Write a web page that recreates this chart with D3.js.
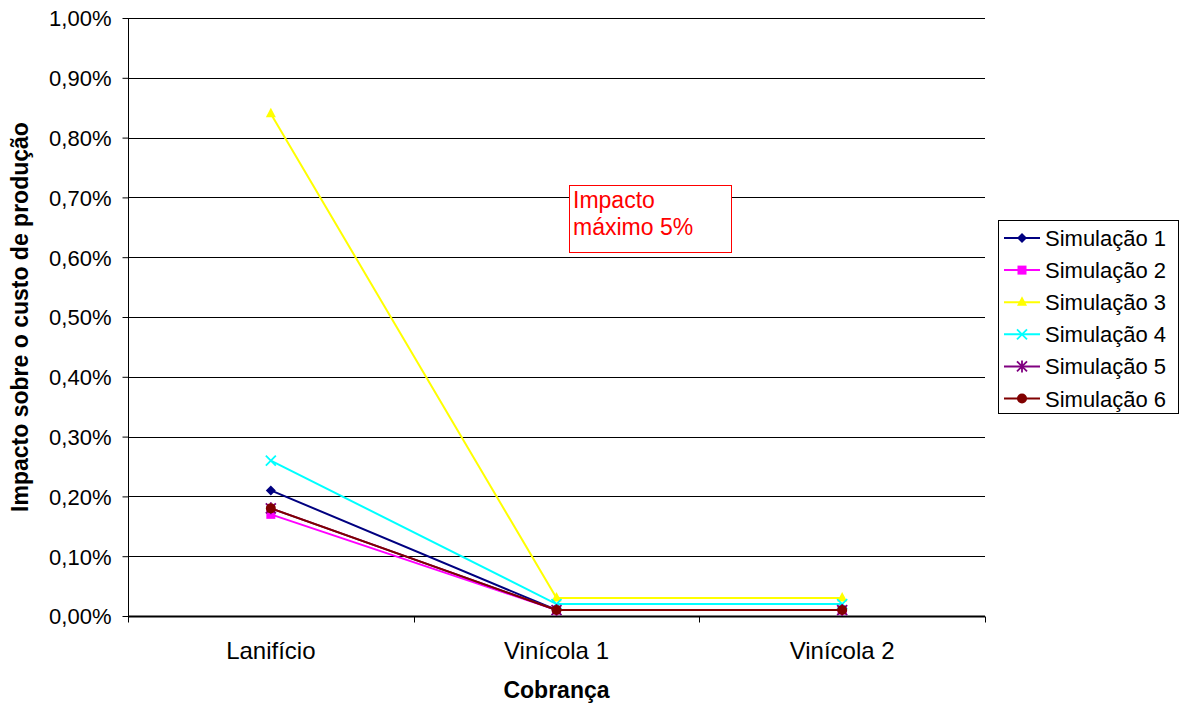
<!DOCTYPE html>
<html>
<head>
<meta charset="utf-8">
<script src="https://cdn.jsdelivr.net/npm/d3@7"></script>
<style>
  html, body { margin: 0; padding: 0; background: #fff; }
  svg { display: block; font-family: Arial, "Liberation Sans", sans-serif; }
</style>
</head>
<body>
<svg id="chart" width="1184" height="707"></svg>
<script>
// Categories on the x axis
const categories = ["Lanifício", "Vinícola 1", "Vinícola 2"];

// Series names and values (impact in %)
const seriesNames = ["Simulação 1", "Simulação 2", "Simulação 3", "Simulação 4", "Simulação 5", "Simulação 6"];
const sim1 = [0.21, 0.01, 0.01];
const sim2 = [0.17, 0.01, 0.01];
const sim3 = [0.84, 0.03, 0.03];
const sim4 = [0.26, 0.02, 0.02];
const sim5 = [0.18, 0.01, 0.01];
const sim6 = [0.18, 0.01, 0.01];
const seriesValues = [sim1, sim2, sim3, sim4, sim5, sim6];

// Y tick values (%)
const yTicks = [0, 0.1, 0.2, 0.3, 0.4, 0.5, 0.6, 0.7, 0.8, 0.9, 1.0];

const colors = ["#000080", "#FF00FF", "#FFFF00", "#00FFFF", "#800080", "#800000"];
const markers = ["diamond", "square", "triangle", "x", "star", "circle"];

const FONT = "Arial, 'Liberation Sans', sans-serif";
const svg = d3.select("#chart");
const plot = { left: 128, right: 985, top: 18, bottom: 616 };

const x = d3.scaleBand().domain(categories).range([plot.left, plot.right]);
const y = d3.scaleLinear().domain([0, 1.0]).range([plot.bottom, plot.top]);
const fmt = v => d3.format(".2f")(v).replace(".", ",") + "%";

// Horizontal gridlines
svg.append("g").selectAll("line").data(yTicks.filter(d => d > 0)).join("line")
  .attr("x1", plot.left).attr("x2", plot.right)
  .attr("y1", d => Math.round(y(d)) + 0.5).attr("y2", d => Math.round(y(d)) + 0.5)
  .attr("stroke", "#000").attr("stroke-width", 1);

// Y axis
const yAxis = svg.append("g")
  .attr("transform", `translate(${plot.left + 0.5},0)`)
  .call(d3.axisLeft(y).tickValues(yTicks).tickFormat(fmt).tickSize(6).tickPadding(11));
yAxis.select(".domain").attr("stroke", "#000").attr("d", `M0,${plot.top}V${plot.bottom}`);
yAxis.selectAll(".tick line").attr("stroke", "#000");
yAxis.selectAll(".tick text").attr("font-size", 22).attr("fill", "#000")
  .attr("font-family", FONT).attr("dy", "0.36em");

// X axis
const xAxisG = svg.append("g").attr("transform", `translate(0,${plot.bottom + 0.5})`);
xAxisG.append("line").attr("x1", plot.left).attr("x2", plot.right)
  .attr("stroke", "#000").attr("stroke-width", 2);
const bounds = [plot.left, ...categories.map(c => x(c) + x.bandwidth())];
xAxisG.selectAll("line.tk").data(bounds).join("line").attr("class", "tk")
  .attr("x1", d => Math.round(d) + 0.5).attr("x2", d => Math.round(d) + 0.5)
  .attr("y1", 0).attr("y2", 6).attr("stroke", "#000");
xAxisG.selectAll("text").data(categories).join("text")
  .attr("x", d => x(d) + x.bandwidth() / 2).attr("y", 42)
  .attr("text-anchor", "middle").attr("font-size", 24).attr("fill", "#000")
  .text(d => d);

// Axis titles
svg.append("text").attr("x", x("Vinícola 1") + x.bandwidth() / 2).attr("y", 698)
  .attr("text-anchor", "middle").attr("font-size", 23).attr("font-weight", "bold")
  .text("Cobrança");
svg.append("text")
  .attr("transform", `translate(28,${(plot.top + plot.bottom) / 2}) rotate(-90)`)
  .attr("text-anchor", "middle").attr("font-size", 23).attr("font-weight", "bold")
  .text("Impacto sobre o custo de produção");

// Marker drawing
function drawMarker(g, type, color, cx, cy) {
  const s = 5;
  if (type === "diamond") {
    g.append("path").attr("d", `M${cx},${cy - s}L${cx + s},${cy}L${cx},${cy + s}L${cx - s},${cy}Z`).attr("fill", color);
  } else if (type === "square") {
    g.append("rect").attr("x", cx - 4.5).attr("y", cy - 4.5).attr("width", 9).attr("height", 9).attr("fill", color);
  } else if (type === "triangle") {
    g.append("path").attr("d", `M${cx},${cy - 6}L${cx + 5},${cy + 3.5}L${cx - 5},${cy + 3.5}Z`).attr("fill", color);
  } else if (type === "x") {
    g.append("path").attr("d", `M${cx - 5},${cy - 5}L${cx + 5},${cy + 5}M${cx - 5},${cy + 5}L${cx + 5},${cy - 5}`)
      .attr("stroke", color).attr("stroke-width", 1.8);
  } else if (type === "star") {
    g.append("path").attr("d", `M${cx - 5},${cy - 5}L${cx + 5},${cy + 5}M${cx - 5},${cy + 5}L${cx + 5},${cy - 5}M${cx},${cy - 6}V${cy + 6}`)
      .attr("stroke", color).attr("stroke-width", 1.8);
  } else if (type === "circle") {
    g.append("circle").attr("cx", cx).attr("cy", cy).attr("r", 5).attr("fill", color);
  }
}

// Series lines and markers
const line = d3.line().x((d, i) => x(categories[i]) + x.bandwidth() / 2).y(d => y(d));
seriesValues.forEach((vals, si) => {
  const g = svg.append("g");
  g.append("path").datum(vals).attr("d", line).attr("fill", "none")
    .attr("stroke", colors[si]).attr("stroke-width", 2);
  vals.forEach((v, i) => drawMarker(g, markers[si], colors[si], x(categories[i]) + x.bandwidth() / 2, y(v)));
});

// Annotation box
const ann = svg.append("g");
ann.append("rect").attr("x", 569.5).attr("y", 185.5).attr("width", 162).attr("height", 67)
  .attr("fill", "#fff").attr("stroke", "#FF0000").attr("stroke-width", 1);
ann.append("text").attr("x", 573).attr("y", 208).attr("font-size", 23).attr("fill", "#FF0000").text("Impacto");
ann.append("text").attr("x", 573).attr("y", 235).attr("font-size", 23).attr("fill", "#FF0000").text("máximo 5%");

// Legend
const leg = svg.append("g");
leg.append("rect").attr("x", 998.5).attr("y", 220.5).attr("width", 180).attr("height", 193)
  .attr("fill", "#fff").attr("stroke", "#000").attr("stroke-width", 1);
seriesNames.forEach((name, i) => {
  const cy = 238 + i * 32.1;
  leg.append("line").attr("x1", 1004).attr("x2", 1040).attr("y1", cy).attr("y2", cy)
    .attr("stroke", colors[i]).attr("stroke-width", 2);
  drawMarker(leg, markers[i], colors[i], 1022, cy);
  leg.append("text").attr("x", 1045).attr("y", cy + 8).attr("font-size", 22).attr("fill", "#000").text(name);
});
</script>
</body>
</html>
